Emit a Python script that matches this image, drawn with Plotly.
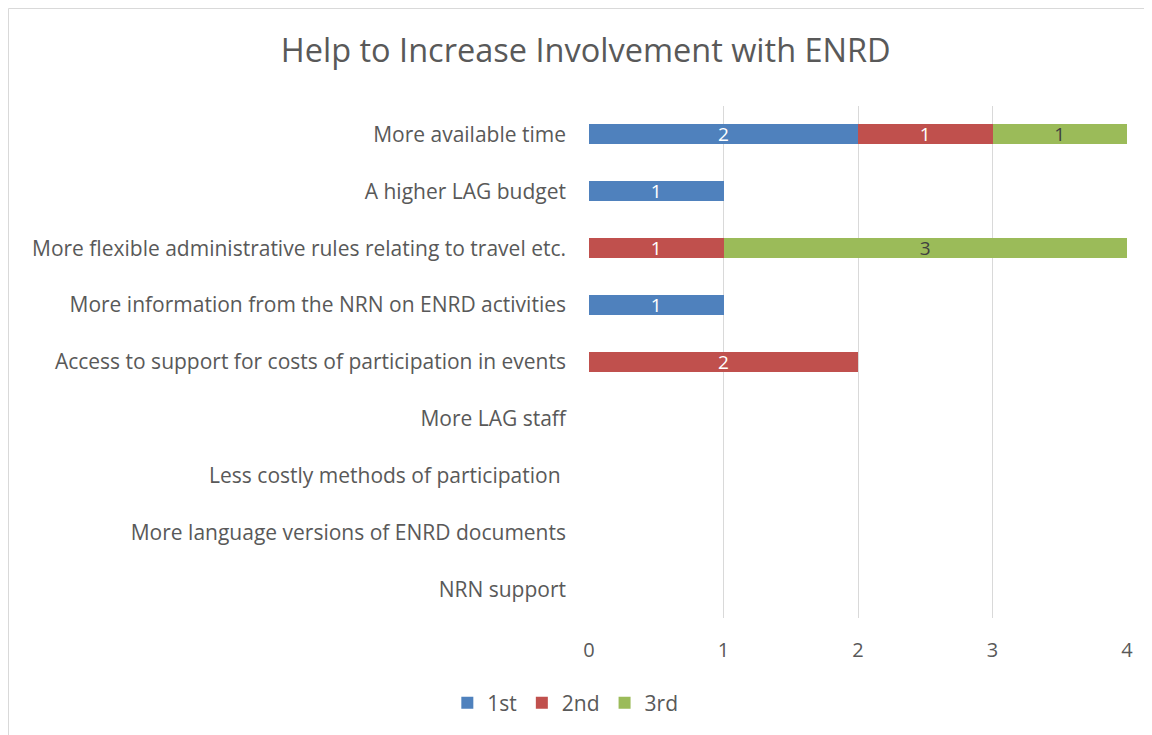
import plotly.graph_objects as go

categories = [
    "More available time",
    "A higher LAG budget",
    "More flexible administrative rules relating to travel etc.",
    "More information from the NRN on ENRD activities",
    "Access to support for costs of participation in events",
    "More LAG staff",
    "Less costly methods of participation ",
    "More language versions of ENRD documents",
    "NRN support",
]
first = [2, 1, None, 1, None, None, None, None, None]
second = [1, None, 1, None, 2, None, None, None, None]
third = [1, None, 3, None, None, None, None, None, None]

series = [
    ("1st", first, "#4F81BD", "white"),
    ("2nd", second, "#C0504D", "white"),
    ("3rd", third, "#9BBB59", "#404040"),
]

FONT = "Open Sans, Calibri, sans-serif"
GREY = "#595959"

fig = go.Figure()
for name, values, color, text_color in series:
    fig.add_trace(
        go.Bar(
            y=categories,
            x=values,
            name=name,
            orientation="h",
            marker={"color": color, "line": {"width": 0}},
            text=["" if v is None else str(v) for v in values],
            textposition="inside",
            insidetextanchor="middle",
            textangle=0,
            constraintext="none",
            insidetextfont={"color": text_color, "size": 19, "family": FONT},
            width=0.35,
        )
    )

fig.update_layout(
    barmode="stack",
    width=1144,
    height=727,
    paper_bgcolor="white",
    plot_bgcolor="white",
    font={"family": FONT, "color": GREY, "size": 21},
    title={
        "text": "Help to Increase Involvement with ENRD",
        "x": 0.505,
        "xanchor": "center",
        "y": 0.942,
        "yanchor": "middle",
        "font": {"size": 32.5, "color": GREY},
    },
    margin={"l": 581, "r": 25, "t": 98, "b": 117},
    legend={
        "orientation": "h",
        "x": -0.044,
        "xanchor": "center",
        "y": -0.166,
        "yanchor": "middle",
        "font": {"size": 21, "color": GREY},
        "traceorder": "normal",
        "itemwidth": 30,
    },
    uniformtext={"mode": "show", "minsize": 19},
    shapes=[
        {
            "type": "rect",
            "xref": "paper",
            "yref": "paper",
            "x0": -1.079,
            "x1": 1.0455,
            "y0": -0.24,
            "y1": 1.1904,
            "line": {"color": "#D9D9D9", "width": 1},
            "layer": "below",
        }
    ],
)
fig.update_xaxes(
    range=[0, 4],
    dtick=1,
    showgrid=True,
    gridcolor="#D9D9D9",
    gridwidth=1,
    zeroline=False,
    showline=False,
    ticklabelstandoff=18,
    tickfont={"size": 20, "color": GREY},
)
fig.update_yaxes(
    autorange="reversed",
    showgrid=False,
    showline=False,
    ticklabelstandoff=22,
    tickfont={"size": 21, "color": GREY},
)

fig.write_html("out.html")
